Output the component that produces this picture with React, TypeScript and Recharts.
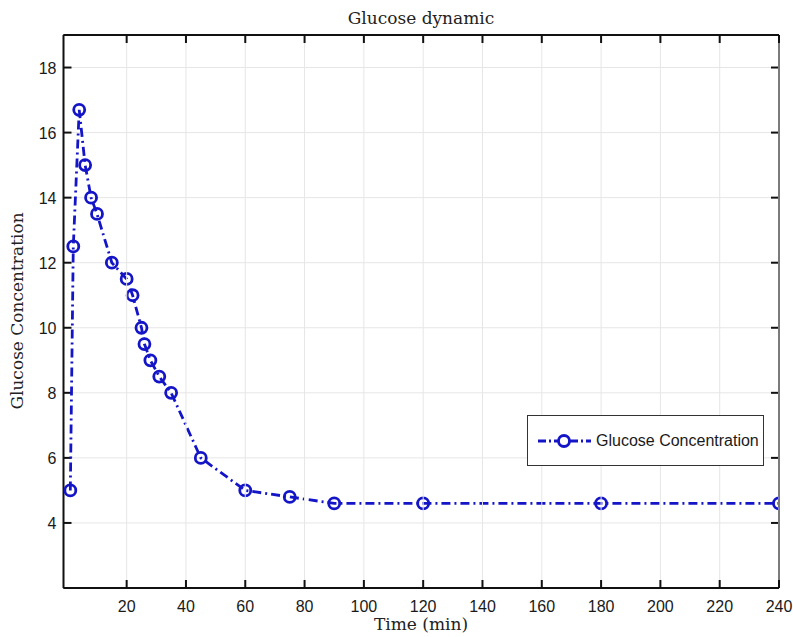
import React from 'react';
import { LineChart, Line, XAxis, YAxis, CartesianGrid, Legend } from 'recharts';

// sampling times (min) and measured glucose
const times = [1, 2, 4, 6, 8, 10, 15, 20, 22, 25, 26, 28, 31, 35, 45, 60, 75, 90, 120, 180, 240];
const glucose = [5, 12.5, 16.7, 15, 14, 13.5, 12, 11.5, 11, 10, 9.5, 9, 8.5, 8, 6, 5, 4.8, 4.6, 4.6, 4.6, 4.6];

const xTicks = [20, 40, 60, 80, 100, 120, 140, 160, 180, 200, 220, 240];
const yTicks = [4, 6, 8, 10, 12, 14, 16, 18];

const data = times.map((t, i) => ({ time: t, value: glucose[i] }));

const BLUE = '#1515c8';
const AXIS = '#111';
const GRID = '#e6e6e6';
const TICK_FONT = '"Liberation Sans", Arial, sans-serif';
const SERIF = '"DejaVu Serif", serif';
const TICK_LEN = 8;
const PLOT_TOP = 35;

// x ticks: vertical grid line, inward ticks on the bottom and top edges, label
const BottomTick = (props: any) => {
  const { x, y, payload } = props;
  return (
    <g>
      <rect x={x - 0.5} y={PLOT_TOP + TICK_LEN} width={1} height={y - PLOT_TOP - 2 * TICK_LEN} fill={GRID} />
      <rect x={x - 1} y={y - TICK_LEN} width={2} height={TICK_LEN} fill={AXIS} />
      <rect x={x - 1} y={PLOT_TOP} width={2} height={TICK_LEN} fill={AXIS} />
      <text x={x} y={y + 24} textAnchor="middle" fontSize={16} fontFamily={TICK_FONT} fill="#1a1a1a">
        {payload.value}
      </text>
    </g>
  );
};

const LeftLabel = (props: any) => {
  const { x, y, payload } = props;
  return (
    <text x={x - 7} y={y + 6} textAnchor="end" fontSize={16} fontFamily={TICK_FONT} fill="#1a1a1a">
      {payload.value}
    </text>
  );
};

// horizontal grid lines carry the inward ticks on the left and right edges
const gridH = (p: any) => {
  const left = Math.min(p.x1, p.x2);
  const right = Math.max(p.x1, p.x2);
  return (
    <g key={`gh-${p.index}`}>
      <line y1={p.y1} y2={p.y2} x1={left} x2={right} stroke={GRID} strokeWidth={1} />
      <line y1={p.y1} y2={p.y1} x1={left} x2={left + TICK_LEN} stroke={AXIS} strokeWidth={2} />
      <line y1={p.y1} y2={p.y1} x1={right - TICK_LEN} x2={right} stroke={AXIS} strokeWidth={2} />
    </g>
  );
};

const Marker = (props: any) => {
  const { cx, cy, index } = props;
  return <circle key={`m-${index}`} cx={cx} cy={cy} r={5.5} fill="none" stroke={BLUE} strokeWidth={2.8} />;
};

const LegendBox = () => (
  <div
    style={{
      width: 237,
      height: 51,
      boxSizing: 'border-box',
      border: '1.5px solid #333',
      background: '#fff',
      display: 'flex',
      alignItems: 'center',
      paddingLeft: 9,
    }}
  >
    <svg width={56} height={16} style={{ flex: 'none' }}>
      <line x1={1} y1={8} x2={54} y2={8} stroke={BLUE} strokeWidth={2.8} strokeDasharray="8 3 2 3" />
      <circle cx={27} cy={8} r={5.5} fill="#fff" stroke={BLUE} strokeWidth={2.8} />
    </svg>
    <span style={{ marginLeft: 3, fontFamily: TICK_FONT, fontSize: 16, color: '#1a1a1a' }}>Glucose Concentration</span>
  </div>
);

export default function App() {
  return (
    <div style={{ position: 'absolute', left: 0, top: 0, width: 793, height: 637, background: '#fff' }}>
      <LineChart width={793} height={637} data={data} margin={{ top: 34, right: 13, bottom: 0, left: 0 }}>
        <CartesianGrid horizontal={gridH} vertical={false} />
        <XAxis
          dataKey="time"
          type="number"
          domain={[-1.3, 240]}
          ticks={xTicks}
          interval={0}
          allowDataOverflow
          height={49}
          stroke={AXIS}
          strokeWidth={2}
          tickSize={0}
          tickMargin={0}
          tickLine={false}
          tick={<BottomTick />}
        />
        <XAxis
          xAxisId="top"
          orientation="top"
          dataKey="time"
          type="number"
          domain={[-1.3, 240]}
          ticks={xTicks}
          height={1}
          stroke={AXIS}
          strokeWidth={2}
          tickLine={false}
          tick={false}
        />
        <YAxis
          type="number"
          domain={[2, 19]}
          ticks={yTicks}
          interval={0}
          allowDataOverflow
          width={63.5}
          stroke={AXIS}
          strokeWidth={2}
          tickSize={0}
          tickMargin={0}
          tickLine={false}
          tick={<LeftLabel />}
        />
        <YAxis
          yAxisId="right"
          orientation="right"
          type="number"
          domain={[2, 19]}
          ticks={yTicks}
          width={1}
          stroke={AXIS}
          strokeWidth={2}
          tickLine={false}
          tick={false}
        />
        <Line
          type="linear"
          dataKey="value"
          stroke={BLUE}
          strokeWidth={2.8}
          strokeDasharray="9 4 2 4"
          dot={Marker}
          activeDot={false}
          isAnimationActive={false}
          legendType="none"
        />
        <Legend
          layout="vertical"
          align="center"
          verticalAlign="middle"
          content={<LegendBox />}
          wrapperStyle={{ position: 'absolute', left: 527, top: 415, width: 237, height: 51 }}
        />
        <text x={421} y={24} textAnchor="middle" fontSize={17} fontFamily={SERIF} fill="#222">
          Glucose dynamic
        </text>
        <text x={421} y={630} textAnchor="middle" fontSize={17} fontFamily={SERIF} fill="#222">
          Time (min)
        </text>
        <text
          x={17}
          y={311}
          transform="rotate(-90, 17, 311)"
          textAnchor="middle"
          dominantBaseline="central"
          fontSize={17}
          fontFamily={SERIF}
          fill="#222"
        >
          Glucose Concentration
        </text>
      </LineChart>
    </div>
  );
}
